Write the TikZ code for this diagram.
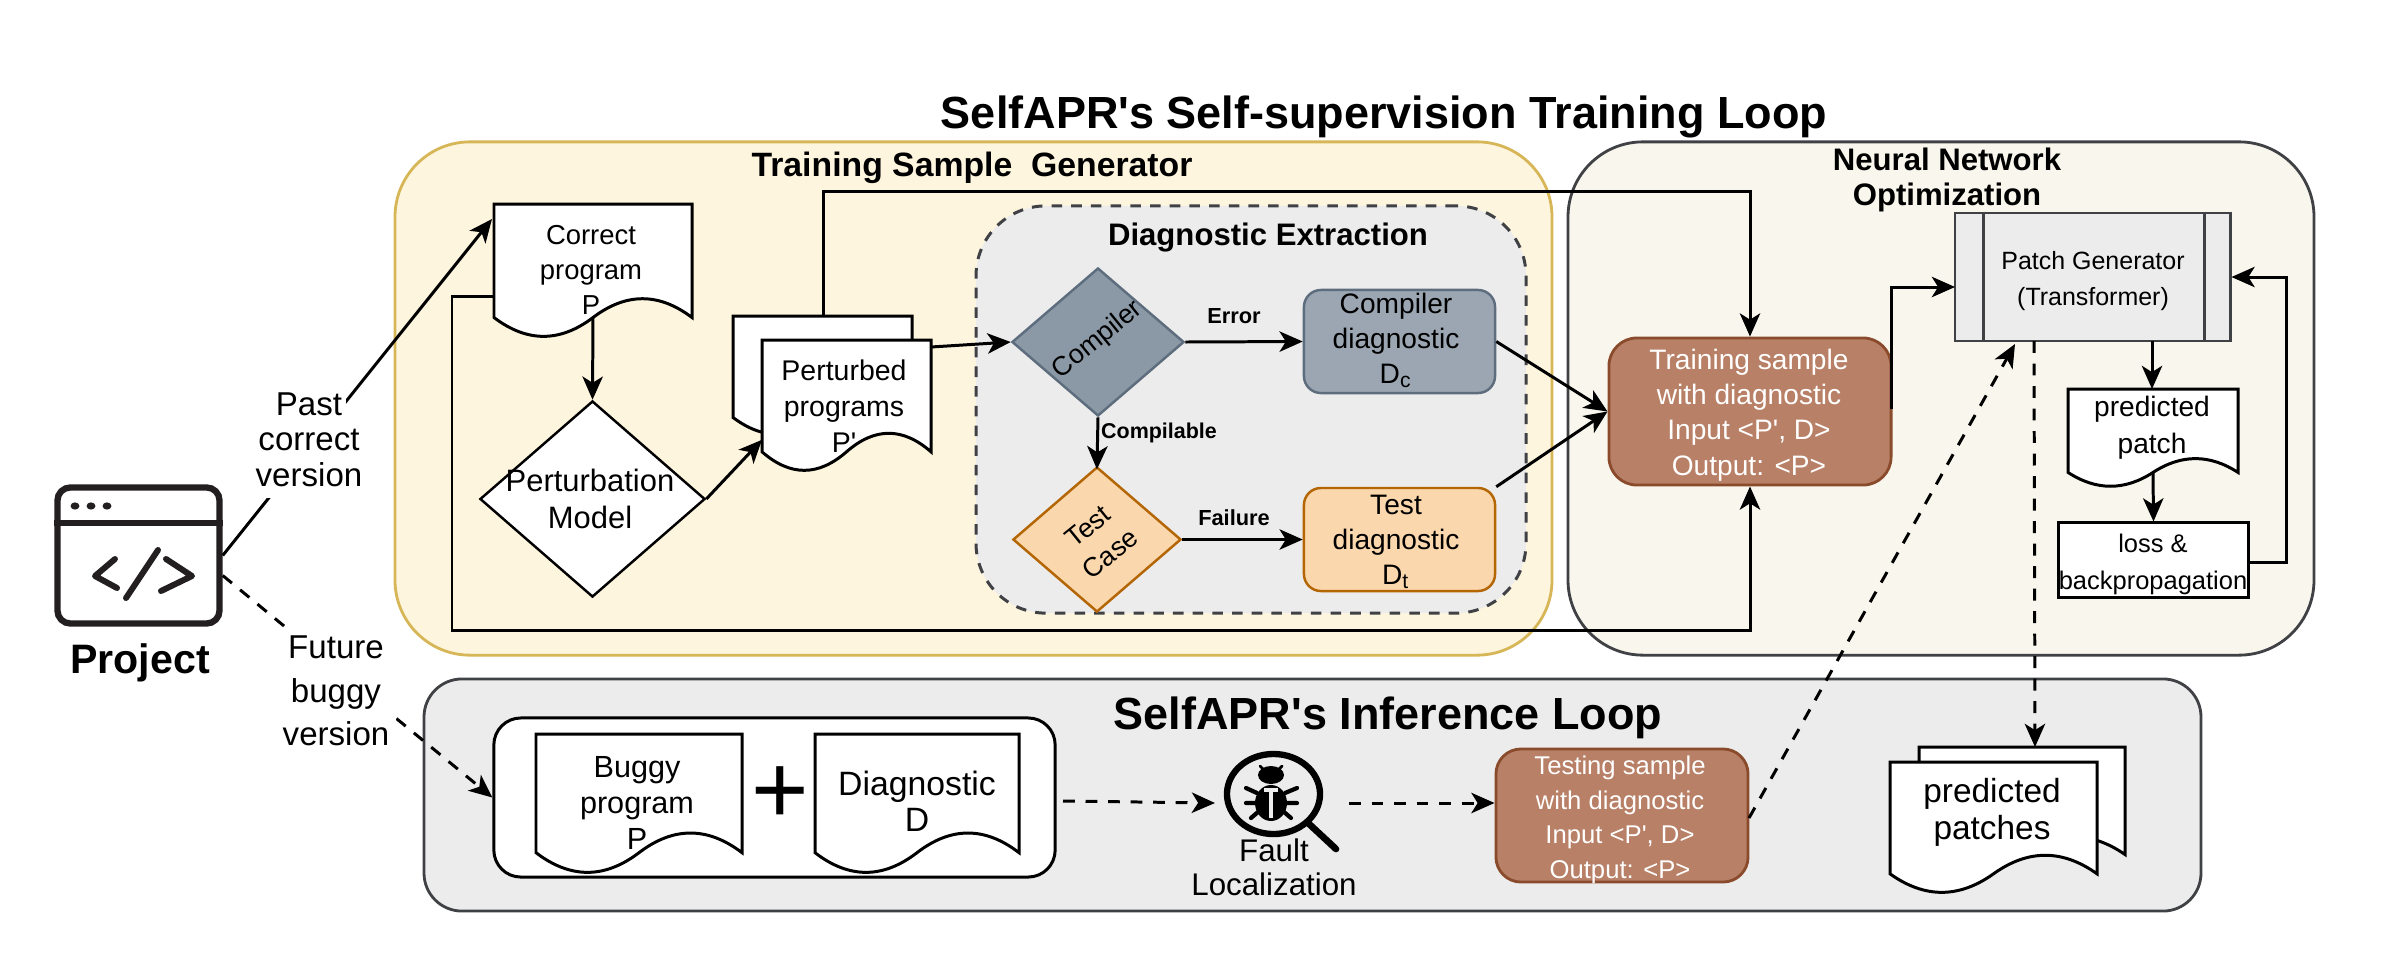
\documentclass[tikz,border=0pt]{standalone}
\usepackage{fontspec}
\setmainfont{Liberation Sans}
\usetikzlibrary{arrows.meta,calc,shapes.geometric}
\definecolor{yellowfill}{HTML}{FEF5DE}
\definecolor{yellowline}{HTML}{D6B656}
\definecolor{nnfill}{HTML}{F9F7ED}
\definecolor{darkline}{HTML}{3F4145}
\definecolor{greyfill}{HTML}{ECECEC}
\definecolor{brownfill}{HTML}{B88066}
\definecolor{brownline}{HTML}{8A4B2C}
\definecolor{slatefill}{HTML}{8B98A6}
\definecolor{slateline}{HTML}{5D6D7E}
\definecolor{slatebox}{HTML}{9BA6B2}
\definecolor{orangefill}{HTML}{FAD7AC}
\definecolor{orangeline}{HTML}{B46504}
\definecolor{iconblack}{HTML}{231F20}

% name, left, top, width, height
\newcommand{\docnode}[5]{%
  \draw[docline] (#2,#3) -- ({#2+#4},#3) -- ({#2+#4},{#3+.86*#5})
    .. controls ({#2+.833*#4},{#3+.67*#5}) and ({#2+.667*#4},{#3+.67*#5}) .. ({#2+.5*#4},{#3+.86*#5})
    .. controls ({#2+.333*#4},{#3+1.05*#5}) and ({#2+.167*#4},{#3+1.05*#5}) .. (#2,{#3+.86*#5}) -- cycle;
  \node[docbox, minimum width=#4*0.01cm, minimum height=.86*#5*0.01cm] (#1) at ({#2+.5*#4},{#3+.43*#5}) {};
}

\begin{document}
\begin{tikzpicture}[x=0.01cm, y=-0.01cm,
    fs/.style 2 args={font=\fontsize{#1}{#2}\selectfont, align=center, inner sep=0pt},
    bfs/.style 2 args={font=\bfseries\fontsize{#1}{#2}\selectfont, align=center, inner sep=0pt},
    docline/.style={draw=black, fill=white, line width=0.85pt},
    docbox/.style={inner sep=0pt, outer sep=0pt},
    flow/.style={draw=black, line width=0.85pt, -{Stealth[length=6.6pt, width=5.8pt, inset=1.8pt]}},
    dflow/.style={flow, dash pattern=on 3.4pt off 3pt},
    panel/.style={inner sep=0pt, minimum width=#1*0.01cm},
    dia/.style={diamond, inner sep=0pt, line width=0.7pt},
    stepbox/.style={rounded corners=0.17cm, inner sep=0pt, minimum width=1.91cm, minimum height=1.03cm, line width=0.7pt},
    lbl/.style={fs={9.4}{11}, fill=white, inner sep=1.2pt, text height=7pt, text depth=2.2pt}
  ]
  \useasboundingbox (0,0) rectangle (2402,978);

  % titles and big panels
  \node[bfs={12.8}{15}] (title) at (1384,117) {SelfAPR\textquotesingle s Self-supervision Training Loop};

  \node[panel=1157, minimum height=5.13cm, draw=yellowline, fill=yellowfill, line width=0.8pt, rounded corners=0.75cm] (samplegen) at (973.5,398.5) {};
  \node[panel=746, minimum height=5.13cm, draw=darkline, fill=nnfill, line width=0.8pt, rounded corners=0.75cm] (nnopt) at (1941,398.5) {};
  \node[panel=1777, minimum height=2.32cm, draw=darkline, fill=greyfill, line width=0.8pt, rounded corners=0.38cm] (infer) at (1312.5,795) {};
  \node[panel=550, minimum height=4.07cm, draw=darkline, fill=greyfill, line width=0.85pt, dash pattern=on 3pt off 2.6pt, rounded corners=0.7cm] (extract) at (1251,409.5) {};

  \node[bfs={9.6}{11}] (sampletitle) at (972,168) {Training Sample\ \ Generator};
  \node[bfs={8.85}{9.7}] (nntitle) at (1947,180) {Neural Network\\Optimization};
  \node[bfs={8.85}{10}] (extracttitle) at (1268,238) {Diagnostic Extraction};
  \node[bfs={12.8}{15}] (infertitle) at (1388,718) {SelfAPR\textquotesingle s Inference Loop};

  % project icon
  \node[draw=iconblack, line width=1.8pt, rounded corners=0.13cm, inner sep=0pt, minimum width=1.62cm, minimum height=1.36cm] (project) at (138.5,555.5) {};
  \draw[draw=iconblack, line width=1.5pt] (project.west |- 0,523) -- (project.east |- 0,523);
  \foreach \dotx in {75,91,107} \fill[iconblack] (\dotx,506) ellipse (4.5 and 3.6);
  \draw[draw=iconblack, line width=1.7pt, line cap=round, line join=round] (115,559) -- (95,576) -- (117,588);
  \draw[draw=iconblack, line width=1.7pt, line cap=round] (158,550) -- (126,598);
  \draw[draw=iconblack, line width=1.7pt, line cap=round, line join=round] (166,559) -- (192,576) -- (161,591);
  \node[bfs={11.7}{14}] (projecttitle) at (140,663) {Project};

  % training sample generator
  \docnode{correct}{494}{204}{198}{132}
  \node[fs={7.8}{9.9}] (correcttxt) at (591,270) {Correct\\program\\P};
  \node[dia, draw=black, fill=white, minimum width=2.25cm, minimum height=1.96cm] (pertmodel) at (592.5,499) {};
  \node[fs={8.8}{10.5}] (pertmodeltxt) at (590,499) {Perturbation\\Model};
  \docnode{perturbedback}{733}{316}{179}{118}
  \docnode{perturbed}{762}{340}{169}{130}
  \node[fs={8.1}{10.2}] (perturbedtxt) at (844,406) {Perturbed\\programs\\P\textquotesingle};

  % diagnostic extraction
  \node[dia, draw=slateline, fill=slatefill, minimum width=1.72cm, minimum height=1.48cm] (compiler) at (1098,342) {};
  \node[fs={7.6}{9}, rotate=39] (compilertxt) at (1098,340) {Compiler};
  \node[stepbox, draw=slateline, fill=slatebox] (compdiag) at (1399.5,341.5) {};
  \node[fs={8}{10}, text=black] (compdiagtxt) at (1396,340) {Compiler\\diagnostic\\D\textsubscript{c}};
  \node[dia, draw=orangeline, fill=orangefill, minimum width=1.68cm, minimum height=1.45cm] (testcase) at (1097,539.5) {};
  \node[fs={7.6}{10}, rotate=39] (testcasetxt) at (1099,540) {Test\\Case};
  \node[stepbox, draw=orangeline, fill=orangefill] (testdiag) at (1399.5,539.5) {};
  \node[fs={8}{10}] (testdiagtxt) at (1396,542) {Test\\diagnostic\\D\textsubscript{t}};

  \node[bfs={6.2}{7}] (errorlabel) at (1234,316) {Error};
  \node[bfs={6.1}{7}] (compilablelabel) at (1159,433) {Compilable};
  \node[bfs={6.2}{7}] (failurelabel) at (1234,518) {Failure};

  % neural network optimization
  \node[draw=brownline, fill=brownfill, line width=0.8pt, rounded corners=0.28cm, inner sep=0pt, minimum width=2.82cm, minimum height=1.47cm] (trainsample) at (1750,411.5) {};
  \node[fs={8}{10}, text=white] (trainsampletxt) at (1749,415) {Training sample\\with diagnostic\\Input <P\textquotesingle, D>\\Output: <P>};
  \node[draw=darkline, fill=greyfill, line width=0.8pt, inner sep=0pt, minimum width=2.75cm, minimum height=1.28cm] (patchgen) at (2092.5,277) {};
  \draw[draw=darkline, line width=0.8pt] ($(patchgen.north west)+(30,0)$) -- ($(patchgen.south west)+(30,0)$);
  \draw[draw=darkline, line width=0.8pt] ($(patchgen.north east)+(-27,0)$) -- ($(patchgen.south east)+(-27,0)$);
  \node[fs={7.1}{10}] (patchgentxt) at (2093,281) {Patch Generator\\(Transformer)};
  \docnode{patchdoc}{2068}{389}{170}{97}
  \node[fs={8}{10.5}] (patchdoctxt) at (2152,428) {predicted\\patch};
  \node[draw=black, fill=white, line width=0.85pt, inner sep=0pt, minimum width=1.89cm, minimum height=0.74cm] (loss) at (2153.5,560) {};
  \node[fs={7.25}{10.5}] (losstxt) at (2153,564) {loss \&\\backpropagation};

  % inference loop
  \node[draw=black, fill=white, line width=0.85pt, rounded corners=0.27cm, inner sep=0pt, minimum width=5.61cm, minimum height=1.59cm] (inputs) at (774.5,797.5) {};
  \docnode{buggy}{536}{734}{206}{138}
  \node[fs={8.7}{10.3}] (buggytxt) at (637,803) {Buggy\\program\\P};
  \node[fs={28}{30}] (plus) at (780,795) {+};
  \docnode{diagdoc}{815}{734}{204}{138}
  \node[fs={9.6}{10.3}] (diagdoctxt) at (917,801) {Diagnostic\\D};

  \node[ellipse, draw=black, line width=1.8pt, fill=greyfill, inner sep=0pt, minimum width=0.93cm, minimum height=0.8cm] (lens) at (1273.5,794) {};
  \draw[black, line width=1.9pt, line cap=round] (1307,822) -- (1336,849);
  % the bug
  \fill[black] (1271,775) ellipse (13 and 9);
  \draw[black, line width=0.8pt, line cap=round] (1263,769) -- (1260,766) (1279,769) -- (1282,766);
  \fill[black] (1271,803) ellipse (16 and 18);
  \draw[greyfill, line width=1pt] (1271,791) -- (1271,818) (1264,790) -- (1278,790);
  \draw[black, line width=1.2pt, line cap=round] (1257,793) -- (1246,788) (1285,793) -- (1297,788)
    (1256,803) -- (1246,803) (1286,803) -- (1297,803)
    (1258,812) -- (1251,818) (1284,812) -- (1291,818);
  \node[fs={8.9}{9.7}] (lenstxt) at (1274,867) {Fault\\Localization};

  \node[draw=brownline, fill=brownfill, line width=0.8pt, rounded corners=0.25cm, inner sep=0pt, minimum width=2.52cm, minimum height=1.33cm] (testsample) at (1622,815.5) {};
  \node[fs={7.3}{9.8}, text=white] (testsampletxt) at (1620,820) {Testing sample\\with diagnostic\\Input <P\textquotesingle, D>\\Output: <P>};

  \docnode{patchesback}{1919}{747}{206}{125}
  \docnode{patches}{1890}{762}{207}{130}
  \node[fs={9.5}{10.5}] (patchestxt) at (1992,812) {predicted\\patches};

  % connectors
  \coordinate (sampleup) at (823,191);
  \draw[flow] ($(perturbedback.north west)+(90,0)$) -- (sampleup) -| (trainsample.north);
  \coordinate (loopleft) at (452,296);
  \draw[flow] (correct.west |- loopleft) -- (loopleft) -- (452,630) -| (trainsample.south);
  \draw[flow] (correct.south) -- (pertmodel.north);
  \draw[flow] (pertmodel.east) -- ($(perturbed.south west)+(0,-12)$);
  \draw[flow] ($(perturbed.north east)+(0,7)$) -- (compiler.west);
  \draw[flow] (compiler.east) -- (compdiag.west);
  \draw[flow, shorten >=-1pt] (compiler.south) -- (testcase.north);
  \draw[flow] (testcase.east) -- (testdiag.west);
  \draw[flow] (compdiag.east) -- (trainsample.west);
  \draw[flow] (testdiag.north east) -- (trainsample.west);
  \coordinate (trainout) at (1891,409);
  \coordinate (patchin) at (1955,287);
  \draw[flow] (trainout) -- (trainout |- patchin) -- (patchin);
  \draw[flow] (2152,341) -- (2152,389);
  \draw[flow] (patchdoc.south) -- (loss.north);
  \coordinate (lossout) at (2286,562);
  \coordinate (patchback) at (2286,277);
  \draw[flow] (loss.east |- lossout) -- (lossout) -- (patchback) -- (patchgen.east);
  \coordinate (faultin) at (1215,803);
  \coordinate (faultout) at (1349,803);
  \draw[dflow] (1063,801) -- (faultin);
  \draw[dflow] (faultout) -- (testsample.west |- faultout);
  \coordinate (patchdash) at (2015,344);
  \draw[dflow] (1749,818) -- (patchdash);
  \draw[dflow] (2034,341) -- ($(patchesback.north west)+(116,0)$);

  % project to the two loops, labels sit on top of the lines
  \draw[flow] (project.east) -- ($(correct.north west)+(-2,15)$);
  \draw[dflow] ($(project.east)+(0,20)$) -- (inputs.west);
  \node[lbl] (pastlabel) at (309,407) {Past};
  \node[lbl] (correctlabel) at (309,442) {correct};
  \node[lbl] (versionlabel) at (309,478) {version};
  \node[fs={9.4}{12.3}, fill=white, inner sep=2pt] (futurelabel) at (336,691) {Future\\buggy\\version};
\end{tikzpicture}
\end{document}
